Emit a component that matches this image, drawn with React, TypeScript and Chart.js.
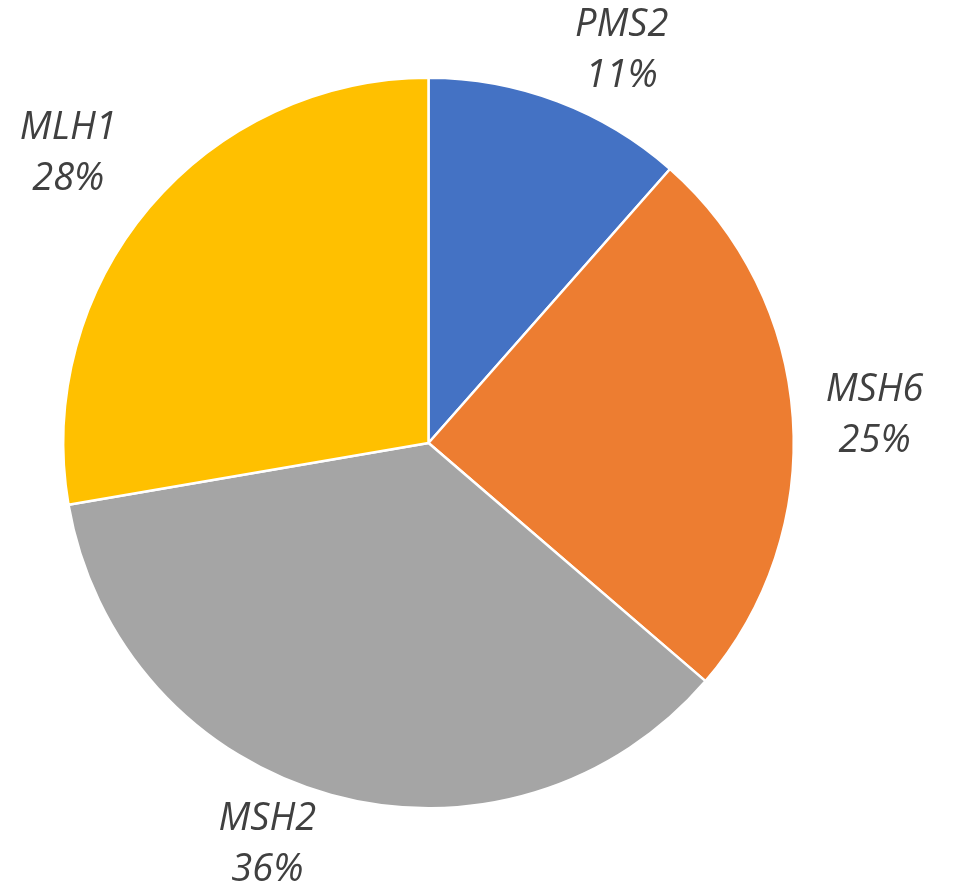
import React, { useEffect, useRef } from "react";
import { Chart, registerables } from "chart.js";

Chart.register(...registerables);

const categories = ["PMS2", "MSH6", "MSH2", "MLH1"];
const values = [11.5, 24.8, 36.0, 27.7];
const percentLabels = ["11%", "25%", "36%", "28%"];
const colors = ["#4472C4", "#ED7D31", "#A5A5A5", "#FFC000"];

const outsideLabels = {
  id: "outsideLabels",
  afterDraw(chart: any, _args: any, opts: any) {
    const ctx = chart.ctx;
    const meta = chart.getDatasetMeta(0);
    meta.data.forEach((arc: any, i: number) => {
      const p = arc.getProps(["x", "y", "startAngle", "endAngle", "outerRadius"], true);
      const place = opts.placement[i];
      const mid = (p.startAngle + p.endAngle) / 2 + (place.dAngle * Math.PI) / 180;
      const d = p.outerRadius * place.dist;
      const cx = p.x + Math.cos(mid) * d;
      const cy = p.y + Math.sin(mid) * d + opts.yShift;
      ctx.save();
      ctx.font = opts.font;
      ctx.fillStyle = opts.color;
      ctx.textAlign = "center";
      ctx.textBaseline = "middle";
      ctx.fillText(categories[i], cx, cy - opts.lineGap / 2);
      ctx.fillText(percentLabels[i], cx, cy + opts.lineGap / 2);
      ctx.restore();
    });
  },
};

export default function App() {
  const ref = useRef<HTMLCanvasElement | null>(null);
  useEffect(() => {
    if (!ref.current) return;
    const chart = new Chart(ref.current, {
      type: "pie",
      data: {
        labels: categories,
        datasets: [
          {
            data: values,
            backgroundColor: colors,
            borderColor: "#FFFFFF",
            borderWidth: 2.5,
          },
        ],
      },
      options: {
        responsive: false,
        animation: false,
        devicePixelRatio: 1,
        layout: { padding: { left: 61.5, top: 76.5, right: 161.5, bottom: 78.5 } },
        plugins: {
          legend: { display: false },
          tooltip: { enabled: false },
          outsideLabels: {
            font: "italic 38px 'Open Sans'",
            color: "#404040",
            lineGap: 51,
            yShift: 2,
            placement: [
              { dAngle: 5.4, dist: 1.202 },
              { dAngle: 0.2, dist: 1.224 },
              { dAngle: 6.5, dist: 1.179 },
              { dAngle: -1.2, dist: 1.268 },
            ],
          },
        } as any,
      },
      plugins: [outsideLabels],
    });
    return () => chart.destroy();
  }, []);
  return (
    <div style={{ position: "absolute", left: 0, top: 0, width: 957, height: 888, background: "#fff" }}>
      <canvas ref={ref} width={957} height={888} style={{ display: "block" }} />
    </div>
  );
}
